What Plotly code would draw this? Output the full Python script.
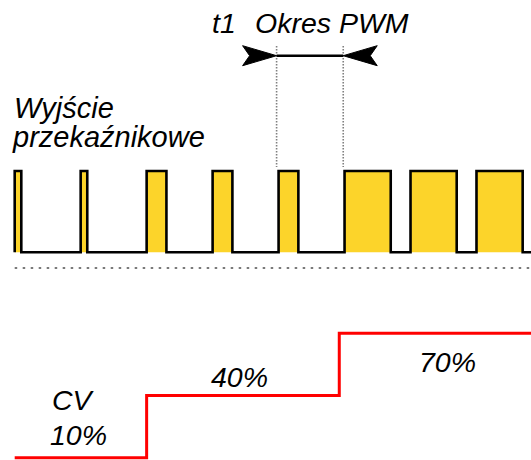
import plotly.graph_objects as go

W, H = 531, 460

# ---------------- data ----------------
period_index = [0, 1, 2, 3, 4, 5, 6, 7]
duty_cycle = [0.10, 0.10, 0.30, 0.30, 0.30, 0.70, 0.70, 0.70]
cv_step_time = [0.0, 2.0, 4.92, 8.0]
cv_percent = [10, 40, 70, 70]
pwm_marker_t = [3.97, 4.98]
label_cv = "CV"
label_t1 = "t1"
label_period = "Okres PWM"
label_output = ["Wyjście", "przekaźnikowe"]

# ---------------- scale setup (pixel calibration of the axes) ----------------
X0_PX, PX_PER_PERIOD = 14.7, 65.97
Y0_PX, PX_PER_LEVEL = 252.3, 81.3
CV0_PX, PX_PER_PCT = 478.4, 2.073

xrange = [(0 - X0_PX) / PX_PER_PERIOD, (W - X0_PX) / PX_PER_PERIOD]
yrange = [(Y0_PX - H) / PX_PER_LEVEL, Y0_PX / PX_PER_LEVEL]
y2range = [(CV0_PX - H) / PX_PER_PCT, CV0_PX / PX_PER_PCT]


def lvl(py):
    return (Y0_PX - py) / PX_PER_LEVEL


# ---------------- PWM signal ----------------
sx, sy = [], []
for i, d in zip(period_index, duty_cycle):
    sx += [i, i, i + d, i + d]
    sy += [0, 1, 1, 0]
sx.append(period_index[-1] + 1)
sy.append(0)

fig = go.Figure()

# dotted baseline under the signal
base_y = lvl(268)
fig.add_trace(go.Scatter(x=[0, period_index[-1] + 1], y=[base_y, base_y], mode="lines",
                         line=dict(color="#7a7a7a", width=2.2, dash="2.5px,5.5px"),
                         hoverinfo="skip", showlegend=False))

fig.add_trace(go.Scatter(x=sx, y=sy, mode="lines", fill="tozeroy",
                         fillcolor="#FCD42A",
                         line=dict(color="black", width=2.6),
                         hoverinfo="skip", showlegend=False))

# vertical dotted period markers
for t in pwm_marker_t:
    fig.add_trace(go.Scatter(x=[t, t], y=[lvl(46), lvl(167)], mode="lines",
                             line=dict(color="#808080", width=1.6, dash="1.5px,1.5px"),
                             hoverinfo="skip", showlegend=False))

# arrow shaft
ay = lvl(55.7)
ta, tb = pwm_marker_t
fig.add_trace(go.Scatter(x=[ta, tb], y=[ay, ay], mode="lines",
                         line=dict(color="black", width=2.6),
                         hoverinfo="skip", showlegend=False))
# arrow heads (barbed, pointing inward)
L = 34 / PX_PER_PERIOD
N = 7 / PX_PER_PERIOD
h = 10 / PX_PER_LEVEL
for tip, s in [(ta, -1), (tb, 1)]:
    hx = [tip, tip + s * L, tip + s * (L - N), tip + s * L, tip]
    hy = [ay, ay + h, ay, ay - h, ay]
    fig.add_trace(go.Scatter(x=hx, y=hy, mode="lines", fill="toself",
                             fillcolor="black", line=dict(color="black", width=1),
                             hoverinfo="skip", showlegend=False))

# CV step line
fig.add_trace(go.Scatter(x=cv_step_time, y=cv_percent, mode="lines", line_shape="hv",
                         line=dict(color="#FF0000", width=3),
                         yaxis="y2", hoverinfo="skip", showlegend=False))

FONT = "Liberation Sans, Arial, sans-serif"


def ann(text, px, py, xanchor="center", size=28.5):
    fig.add_annotation(text=text, x=px / W, y=1 - py / H, xref="paper", yref="paper",
                       xanchor=xanchor, yanchor="middle", showarrow=False,
                       font=dict(family=FONT, size=size, color="black", style="italic"))


ann(label_t1, 223.5, 23)
ann(label_period, 331.5, 23)
ann(label_output[0], 12, 107.5, xanchor="left", size=29)
ann(label_output[1], 10, 137, xanchor="left", size=29)
ann(label_cv, 73.3, 400.3)
ann(f"{cv_percent[0]}%", 78.3, 434.5)
ann(f"{cv_percent[1]}%", 239, 376.7)
ann(f"{cv_percent[2]}%", 447, 361.5)

fig.update_layout(
    width=W, height=H, autosize=False,
    margin=dict(l=0, r=0, t=0, b=0, pad=0),
    paper_bgcolor="white", plot_bgcolor="white",
    xaxis=dict(range=xrange, visible=False, fixedrange=True),
    yaxis=dict(range=yrange, visible=False, fixedrange=True),
    yaxis2=dict(range=y2range, visible=False, overlaying="y", fixedrange=True),
    showlegend=False,
)

fig.write_html("out.html", config={"displayModeBar": False},
               post_script="document.body.style.margin='0px';document.body.style.overflow='hidden';")
